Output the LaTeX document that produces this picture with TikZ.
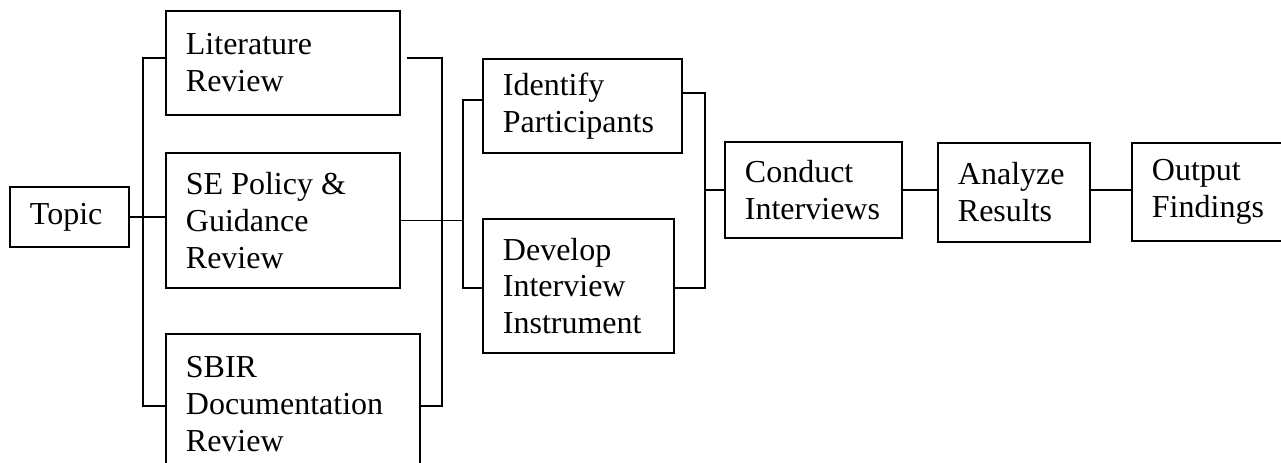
\documentclass[tikz,border=0pt]{standalone}
\usepackage{fontspec}
\setmainfont{Liberation Serif}

\tikzset{
  stage/.style={draw, line width=1.4pt, anchor=north west, align=flush left,
    inner xsep=15pt, inner ysep=0pt, font=\fontsize{24}{27.6}\selectfont},
  link/.style={line width=1.2pt}
}

\begin{document}
\begin{tikzpicture}[x=0.75pt, y=-0.75pt]
  \useasboundingbox (0,0) rectangle (1281,463);
  \clip (0,0) rectangle (1281,463);

  \node[stage, text width=59.25pt, minimum height=45pt] (topic) at (9,186) {Topic};

  \node[stage, text width=145.5pt, minimum height=78pt] (lit) at (165,10) {Literature\\Review};
  \node[stage, text width=145.5pt, minimum height=101.25pt] (sepol) at (165,152) {SE Policy \&\\Guidance\\Review};
  \node[stage, text width=160.5pt, minimum height=105pt] (sbir) at (165,333) {SBIR\\Documentation\\Review};

  \node[stage, text width=119.25pt, minimum height=70.5pt] (ident) at (482,58) {Identify\\Participants};
  \node[stage, text width=113.25pt, minimum height=100.5pt] (devel) at (482,218) {Develop\\Interview\\Instrument};

  \node[stage, text width=102.75pt, minimum height=72pt] (conduct) at (724,141) {Conduct\\Interviews};
  \node[stage, text width=84pt, minimum height=74.25pt] (analyze) at (937,142) {Analyze\\Results};
  \node[stage, text width=135pt, minimum height=73.5pt] (output) at (1131,142) {Output\\Findings};

  % bus lines between the stages
  \coordinate (lbusT) at (143,58);
  \coordinate (lbusB) at (143,406);
  \coordinate (rbusT) at (442,58);
  \coordinate (rbusB) at (442,406);
  \coordinate (mbusT) at (463,100);
  \coordinate (mbusB) at (463,288);
  \coordinate (cbusT) at (705,93);
  \coordinate (cbusB) at (705,288);
  \coordinate (litR) at ([xshift=4.5pt]lit.east);

  \draw[link] (topic.east) -- (topic.east -| sepol.west);
  \draw[link] (lit.west |- lbusT) -- (lbusT) -- (lbusB) -- (sbir.west |- lbusB);
  \draw[link] (litR |- rbusT) -- (rbusT) -- (rbusB) -- (sbir.east |- rbusB);
  \draw[link] (sepol.east) -- (sepol.east -| mbusT);
  \draw[link] (ident.west |- mbusT) -- (mbusT) -- (mbusB) -- (devel.west |- mbusB);
  \draw[link] (ident.east |- cbusT) -- (cbusT) -- (cbusB) -- (devel.east |- cbusB);
  \draw[link] (cbusT |- conduct.west) -- (conduct.west);
  \draw[link] (conduct.east) -- (conduct.east -| analyze.west);
  \draw[link] (analyze.east |- conduct.east) -- (output.west |- conduct.east);
\end{tikzpicture}
\end{document}
